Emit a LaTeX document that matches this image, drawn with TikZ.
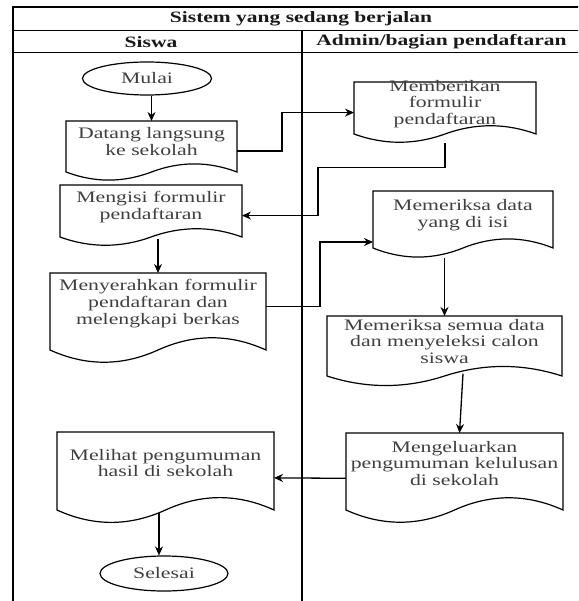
\documentclass[tikz,border=0pt]{standalone}
\usepackage{fontspec}
\setmainfont{Liberation Serif}[FakeStretch=1.36]
\usetikzlibrary{shapes.geometric,arrows.meta,calc}
\tikzset{
  frame/.style={draw=black, line width=1.3pt},
  docline/.style={draw=black, line width=1.2pt, fill=white},
  docarea/.style={rectangle, inner sep=0pt, outer sep=0pt},
  doctext/.style={align=center, text=black!75, inner sep=0pt, font=\fontsize{16pt}{16.8pt}\selectfont},
  term/.style={ellipse, draw=black, line width=1.2pt, inner sep=0pt, text=black!75, font=\fontsize{16pt}{16.8pt}\selectfont},
  head/.style={font=\fontsize{15.8pt}{16.8pt}\selectfont\bfseries, text=black!90, inner sep=0pt},
  arr/.style={draw=black, line width=1.3pt, -{Stealth[length=9pt,width=8pt]}},
}
\newcommand\docbox[8]{%
  \pgfmathsetmacro\dbH{(#5-#3)/0.85}%
  \pgfmathsetmacro\dbA{0.18*\dbH}%
  \pgfmathsetmacro\dbW{#4-#2}%
  \pgfmathsetmacro\dbS{\dbW/6}%
  \pgfmathsetmacro\dbM{(#2+#4)/2}%
  \node[docarea, minimum width=\dbW pt, minimum height=\dbH pt, anchor=north west] (#1) at (#2,#3) {};
  \draw[docline] (#1.north west) -- (#1.north east) -- (#4,#5)
     .. controls (#4-\dbS,#5-\dbA) and (\dbM+\dbS,#5-\dbA) .. (\dbM,#5)
     .. controls (\dbM-\dbS,#5+\dbA) and (#2+\dbS,#5+\dbA) .. (#2,#5) -- cycle;
  \node[doctext] (#1-t) at (#6,#7) {#8};
}
\begin{document}
\begin{tikzpicture}[x=1pt,y=-1pt]
\useasboundingbox (0,0) rectangle (578,601);
\clip (0,0) rectangle (578,601);
\fill[white] (0,0) rectangle (578,601);
% swimlane frame
\draw[frame] (13,7) rectangle (592,640);
\draw[frame] (13,30.5) -- (592,30.5);
\draw[frame] (13,52.5) -- (592,52.5);
\draw[frame] (302,30.5) -- (302,640);
\node[head] (title) at (301,18.5) {Sistem yang sedang berjalan};
\node[head] (lane1) at (151,42) {Siswa};
\node[head] (lane2) at (441.5,42) {Admin/bagian pendaftaran};
% terminals
\node[term, minimum width=129pt, minimum height=33pt] (mulai) at (147,78.5) {Mulai};
\node[term, minimum width=128pt, minimum height=35pt] (selesai) at (164,573.5) {Selesai};
% documents
\docbox{datang}{66}{121}{237}{172}{151.5}{141.5}{Datang langsung\\ke sekolah}
\docbox{memb}{354}{82}{536}{134}{445}{104}{Memberikan\\formulir\\pendaftaran}
\docbox{isi}{60}{185}{242}{237}{151}{207}{Mengisi formulir\\pendaftaran}
\docbox{serah}{50}{273}{266}{350}{158}{303.5}{Menyerahkan formulir\\pendaftaran dan\\melengkapi berkas}
\docbox{cekdata}{373}{191}{553}{248}{463}{215}{Memeriksa data\\yang di isi}
\docbox{cekall}{327}{316}{562}{376}{444.5}{341.5}{Memeriksa semua data\\dan menyeleksi calon\\siswa}
\docbox{keluar}{346}{433}{563}{510}{454.5}{463.5}{Mengeluarkan\\pengumuman kelulusan\\di sekolah}
\docbox{lihat}{57}{432}{274}{510}{165.5}{463}{Melihat pengumuman\\hasil di sekolah}
% connectors
\draw[arr] (mulai.south -| datang.north) -- (datang.north);
\draw[arr] (datang.east) -- ++(45,0) |- (memb.west);
\draw[arr] (memb.south) -- ++(0,24) -- ++(-127,0) |- (isi.east);
\draw[arr] ([yshift=7pt]isi.south -| serah.north) -- (serah.north);
\draw[arr] ([yshift=12pt]serah.east) -- ++(54,0) |- ([yshift=-17.5pt]cekdata.west);
\draw[arr] (cekdata.south -| cekall.north) -- (cekall.north);
\draw[arr] ([xshift=18.5pt,yshift=13pt]cekall.south) -- ([xshift=5pt]keluar.north);
\draw[arr] (keluar.west) -- (lihat.east);
\draw[arr] ([xshift=-6.5pt,yshift=11pt]lihat.south) -- ([xshift=-5pt]selesai.north);
\end{tikzpicture}
\end{document}
